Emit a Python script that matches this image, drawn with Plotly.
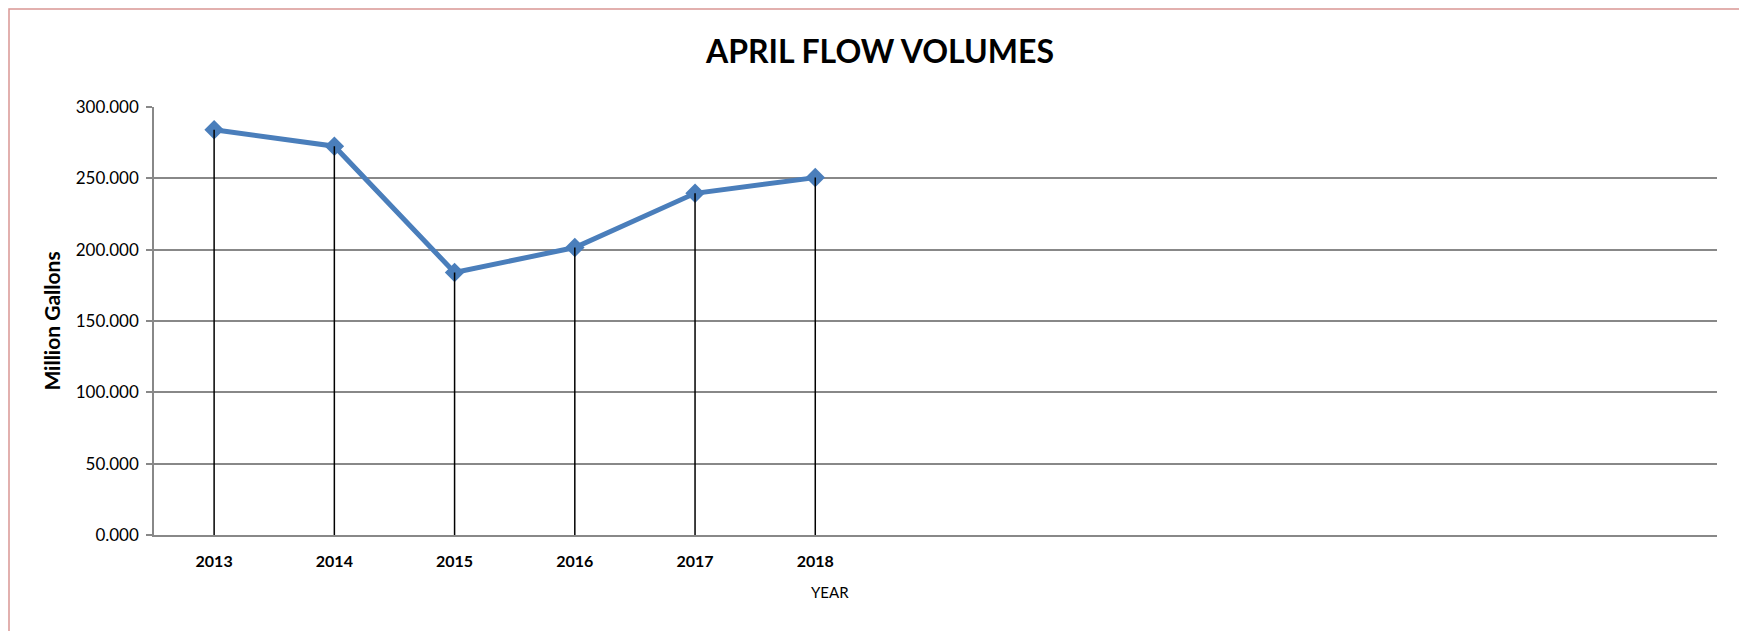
import plotly.graph_objects as go

years = ["2013", "2014", "2015", "2016", "2017", "2018"]
flow = [284.0, 272.5, 184.0, 201.5, 239.5, 250.5]
y_ticks = [0, 50, 100, 150, 200, 250, 300]
y_tick_text = ["0.000", "50.000", "100.000", "150.000", "200.000", "250.000", "300.000"]
n_slots = 13

FONT = "Lato"
BLUE = "#4a7ebb"
GRID = "#888888"

W, H = 1747, 631
OFF = 8  # page body margin
L, R, T, B = 154 - OFF, 1717 - OFF, 107 - OFF, 535 - OFF
PW, PH = R - L, B - T

xs = list(range(len(years)))

fig = go.Figure()

fig.add_trace(go.Scatter(
    x=xs, y=flow, mode="lines+markers",
    line=dict(color=BLUE, width=5),
    marker=dict(symbol="diamond", size=15, color=BLUE),
    hoverinfo="x+y", showlegend=False,
))

# drop lines from each point to the axis
dx, dy = [], []
for x, v in zip(xs, flow):
    dx += [x, x, None]
    dy += [v, 0, None]
fig.add_trace(go.Scatter(
    x=dx, y=dy, mode="lines",
    line=dict(color="black", width=1.5),
    hoverinfo="skip", showlegend=False,
))

fig.update_layout(
    width=W, height=H,
    margin=dict(l=L, r=W - R, t=T, b=H - B),
    paper_bgcolor="white", plot_bgcolor="white",
    font=dict(family=FONT, color="black"),
    title=dict(text="<b>APRIL FLOW VOLUMES</b>", font=dict(family=FONT, size=32, color="black"),
               x=(880 - OFF) / W, xanchor="center", y=1 - (52 - OFF) / H, yanchor="middle"),
    xaxis=dict(
        range=[-0.5, n_slots - 0.5],
        tickvals=xs, ticktext=["<b>%s</b>" % y for y in years],
        tickfont=dict(family=FONT, size=16, color="black"),
        showgrid=False, zeroline=False,
        showline=True, linecolor=GRID, linewidth=1.5,
        ticks="", ticklabelstandoff=11,
    ),
    yaxis=dict(
        range=[0, 300],
        tickvals=y_ticks, ticktext=y_tick_text,
        tickfont=dict(family=FONT, size=17, color="black"),
        showgrid=True, gridcolor=GRID, gridwidth=1.5,
        zeroline=False,
        showline=True, linecolor=GRID, linewidth=1.5,
        ticks="outside", ticklen=6, tickcolor=GRID, tickwidth=1.5,
        ticklabelstandoff=4,
        title=dict(text="<b>Million Gallons</b>", font=dict(family=FONT, size=21, color="black"),
                   standoff=9),
    ),
    annotations=[dict(
        text="YEAR", xref="paper", yref="paper",
        x=(830 - OFF - L) / PW, y=-(592 - 535) / PH,
        xanchor="center", yanchor="middle", showarrow=False,
        font=dict(family=FONT, size=15, color="black"),
    )],
    shapes=[dict(
        type="rect", xref="paper", yref="paper",
        x0=(1 - L) / PW, x1=1.2, y0=-0.3, y1=(B - 1) / PH,
        line=dict(color="#d99694", width=1.5), fillcolor="rgba(0,0,0,0)", layer="below",
    )],
)

fig.write_html("out.html")
